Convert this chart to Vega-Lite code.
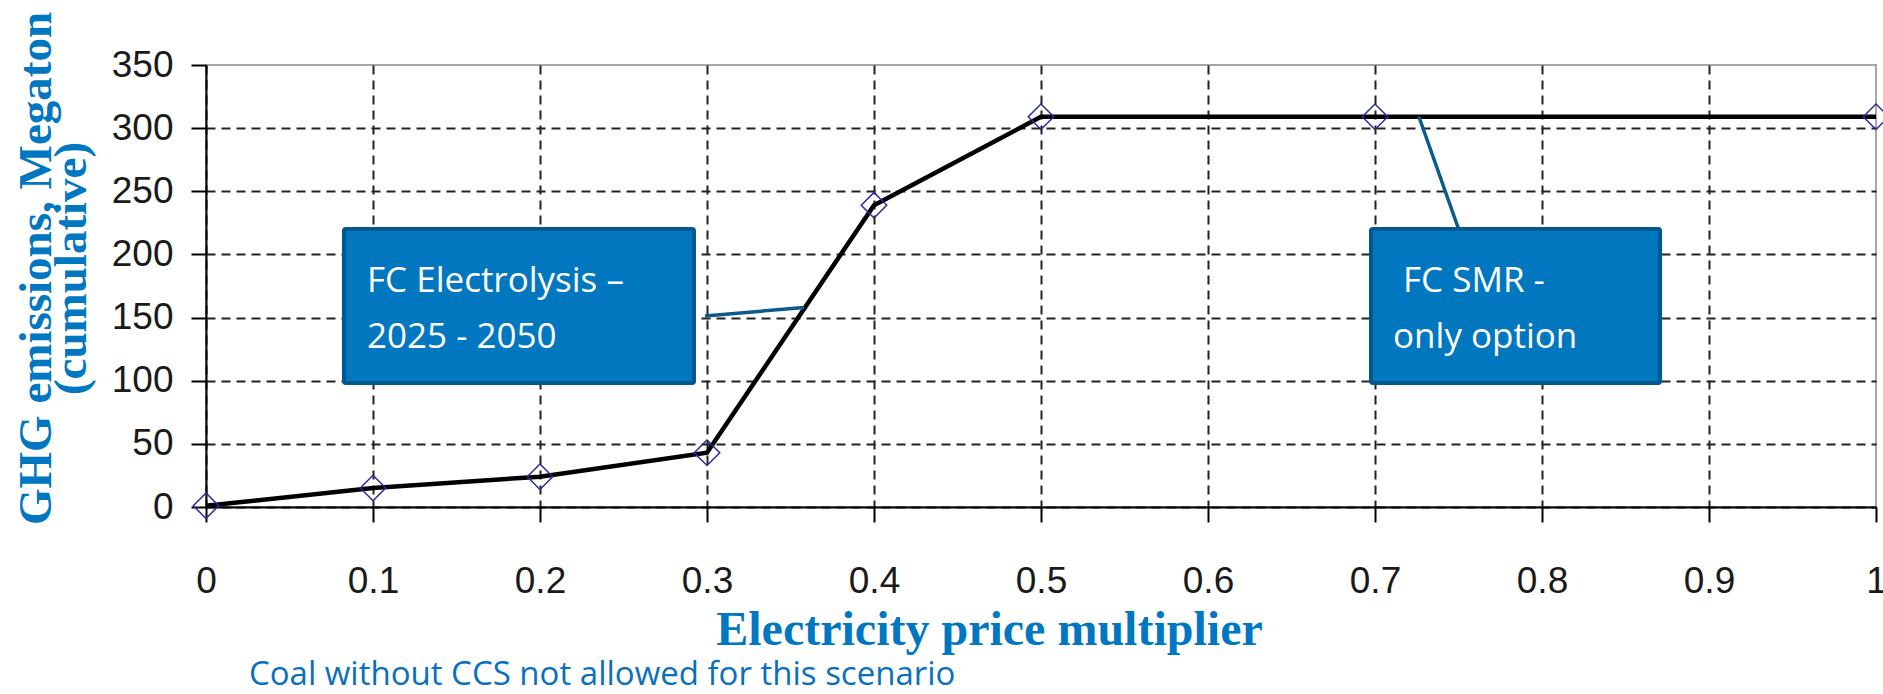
{
  "$schema": "https://vega.github.io/schema/vega-lite/v6.json",
  "width": 1670,
  "height": 442,
  "autosize": {"type": "none"},
  "padding": {"left": 206, "top": 65, "right": 7, "bottom": 187},
  "background": "white",
  "config": {
    "view": {"stroke": "#a6a6a6", "strokeWidth": 2},
    "axis": {
      "domainColor": "black",
      "domainWidth": 2,
      "tickColor": "black",
      "tickWidth": 2,
      "tickSize": 15,
      "gridColor": "#222222",
      "gridDash": [9, 6],
      "gridWidth": 2,
      "labelFont": "Liberation Sans",
      "labelFontSize": 37,
      "labelColor": "#1a1a1a",
      "labelOverlap": false,
      "labelFlush": false,
      "titleFont": "Liberation Serif",
      "titleFontWeight": "bold",
      "titleFontSize": 47,
      "titleColor": "#0077c0"
    }
  },
  "data": {
    "values": [
      {"multiplier": 0, "emissions": 1},
      {"multiplier": 0.1, "emissions": 15},
      {"multiplier": 0.2, "emissions": 24},
      {"multiplier": 0.3, "emissions": 43},
      {"multiplier": 0.4, "emissions": 239},
      {"multiplier": 0.5, "emissions": 309},
      {"multiplier": 0.7, "emissions": 309},
      {"multiplier": 1, "emissions": 309}
    ]
  },
  "layer": [
    {
      "mark": {"type": "line", "color": "black", "strokeWidth": 4.5},
      "encoding": {
        "x": {
          "field": "multiplier",
          "type": "quantitative",
          "scale": {"domain": [0, 1], "nice": false, "zero": false},
          "axis": {
            "values": [0, 0.1, 0.2, 0.3, 0.4, 0.5, 0.6, 0.7, 0.8, 0.9, 1],
            "format": "~g",
            "grid": true,
            "gridOpacity": {"condition": {"test": "datum.value >= 0.999", "value": 0}, "value": 1},
            "labelPadding": 41,
            "title": "Electricity price multiplier",
            "titleFontSize": 48,
            "titleX": 783,
            "titleY": 137,
            "titleAlign": "center",
            "titleBaseline": "alphabetic"
          }
        },
        "y": {
          "field": "emissions",
          "type": "quantitative",
          "scale": {"domain": [0, 350], "nice": false},
          "axis": {
            "values": [0, 50, 100, 150, 200, 250, 300, 350],
            "grid": true,
            "gridOpacity": {"condition": {"test": "datum.value >= 349", "value": 0}, "value": 1},
            "labelPadding": 18,
            "title": ["GHG emissions, Megaton", "(cumulative)"],
            "titleX": -156,
            "titleY": 203,
            "titleAngle": -90,
            "titleAlign": "center",
            "titleBaseline": "alphabetic",
            "titleLineHeight": 35
          }
        }
      }
    },
    {
      "mark": {"type": "point", "shape": "diamond", "filled": false, "stroke": "#2b2b9b", "strokeWidth": 1.5, "size": 650, "opacity": 1},
      "encoding": {
        "x": {"field": "multiplier", "type": "quantitative"},
        "y": {"field": "emissions", "type": "quantitative"}
      }
    },
    {
      "data": {"values": [{}]},
      "mark": {"type": "rule", "color": "#0a5a8c", "strokeWidth": 3.5},
      "encoding": {
        "x": {"datum": 0.2988, "type": "quantitative"},
        "y": {"datum": 151.2, "type": "quantitative"},
        "x2": {"datum": 0.3581},
        "y2": {"datum": 158}
      }
    },
    {
      "data": {"values": [{}]},
      "mark": {"type": "rule", "color": "#0a5a8c", "strokeWidth": 3.5},
      "encoding": {
        "x": {"datum": 0.7509, "type": "quantitative"},
        "y": {"datum": 217, "type": "quantitative"},
        "x2": {"datum": 0.7263},
        "y2": {"datum": 309}
      }
    },
    {
      "data": {"values": [{}]},
      "mark": {"type": "rect", "fill": "#0077bf", "stroke": "#00588f", "strokeWidth": 4, "cornerRadius": 2},
      "encoding": {
        "x": {"datum": 0.0826, "type": "quantitative"},
        "x2": {"datum": 0.2922},
        "y": {"datum": 220.1, "type": "quantitative"},
        "y2": {"datum": 98.2}
      }
    },
    {
      "data": {"values": [{}]},
      "mark": {"type": "rect", "fill": "#0077bf", "stroke": "#00588f", "strokeWidth": 4, "cornerRadius": 2},
      "encoding": {
        "x": {"datum": 0.6976, "type": "quantitative"},
        "x2": {"datum": 0.8707},
        "y": {"datum": 220.1, "type": "quantitative"},
        "y2": {"datum": 98.2}
      }
    },
    {
      "data": {"values": [{}]},
      "mark": {"type": "text", "text": ["FC Electrolysis –", "2025 - 2050"], "font": "Open Sans", "fontSize": 35, "color": "white", "align": "left", "baseline": "alphabetic", "lineHeight": 56},
      "encoding": {
        "x": {"datum": 0.0964, "type": "quantitative"},
        "y": {"datum": 170.2, "type": "quantitative"}
      }
    },
    {
      "data": {"values": [{}]},
      "mark": {"type": "text", "text": "FC SMR -", "font": "Open Sans", "fontSize": 35, "color": "white", "align": "left", "baseline": "alphabetic"},
      "encoding": {
        "x": {"datum": 0.7168, "type": "quantitative"},
        "y": {"datum": 170.2, "type": "quantitative"}
      }
    },
    {
      "data": {"values": [{}]},
      "mark": {"type": "text", "text": "only option", "font": "Open Sans", "fontSize": 35, "color": "white", "align": "left", "baseline": "alphabetic"},
      "encoding": {
        "x": {"datum": 0.7108, "type": "quantitative"},
        "y": {"datum": 125.9, "type": "quantitative"}
      }
    },
    {
      "data": {"values": [{}]},
      "mark": {"type": "text", "text": "Coal without CCS not allowed for this scenario", "font": "Open Sans", "fontSize": 33, "color": "#0a70bd", "align": "left", "baseline": "alphabetic"},
      "encoding": {
        "x": {"datum": 0.0257, "type": "quantitative"},
        "y": {"datum": -141, "type": "quantitative"}
      }
    }
  ]
}
